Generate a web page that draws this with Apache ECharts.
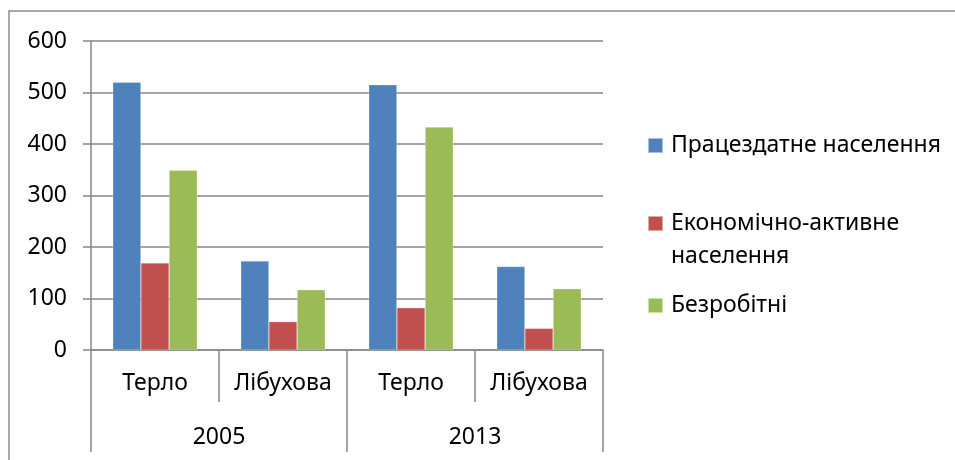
<!DOCTYPE html>
<html>
<head>
<meta charset="utf-8">
<script src="https://cdn.jsdelivr.net/npm/echarts@6/dist/echarts.min.js"></script>
<style>
  html, body { margin: 0; padding: 0; background: #fff; }
  #chart { width: 955px; height: 460px; }
</style>
</head>
<body>
<div id="chart"></div>
<script>
const villages = ["Терло", "Лібухова", "Терло", "Лібухова"];
const years = ["2005", "2013"];
const seriesNames = ["Працездатне населення", "Економічно-активне населення", "Безробітні"];
const ableBodied = [520, 173, 515, 162];
const active = [169, 55, 82, 42];
const unemployed = [349, 117, 433, 119];
const yTicks = { min: 0, max: 600, interval: 100 };

const colors = ["#4F81BD", "#C0504D", "#9BBB59"];
const axisGray = "#868686";
const font = "Noto Sans";
const fontSize = 23;

const chart = echarts.init(document.getElementById("chart"));

const legendBase = {
  orient: "vertical",
  left: 647,
  padding: 0,
  itemWidth: 15,
  itemHeight: 15,
  icon: "rect",
  selectedMode: false,
  textStyle: {
    fontFamily: font,
    fontSize: fontSize,
    color: "#000",
    lineHeight: 33,
    padding: [0, 0, 0, 3],
  },
};

chart.setOption({
  animation: false,
  color: colors,
  graphic: [
    {
      type: "polyline",
      shape: { points: [[9, 460], [9, 11], [955, 11]] },
      style: { stroke: "#8c8c8c", lineWidth: 1.5, fill: null },
    },
  ],
  legend: [
    Object.assign({}, legendBase, { top: 129, data: [seriesNames[0]] }),
    Object.assign({}, legendBase, {
      top: 174,
      data: [seriesNames[1]],
      // blank first line keeps the marker beside the first text line
      formatter: () => "\nЕкономічно-активне\nнаселення",
    }),
    Object.assign({}, legendBase, { top: 289, data: [seriesNames[2]] }),
  ],
  grid: { left: 91, right: 352, top: 41, bottom: 110 },
  xAxis: [
    {
      type: "category",
      data: villages,
      axisLine: { lineStyle: { color: axisGray, width: 1.5 } },
      axisTick: { show: true, interval: 0, length: 52, lineStyle: { color: axisGray, width: 1.5 } },
      axisLabel: { fontFamily: font, fontSize: fontSize, color: "#000", margin: 22, interval: 0 },
    },
    {
      type: "category",
      data: years,
      position: "bottom",
      axisLine: { show: false },
      axisTick: { show: true, interval: 0, length: 102, lineStyle: { color: axisGray, width: 1.5 } },
      axisLabel: { fontFamily: font, fontSize: fontSize, color: "#000", margin: 76 },
    },
  ],
  yAxis: {
    type: "value",
    min: yTicks.min,
    max: yTicks.max,
    interval: yTicks.interval,
    axisLine: { show: true, lineStyle: { color: axisGray, width: 1.5 } },
    axisTick: { show: true, length: 8, lineStyle: { color: axisGray, width: 1.5 } },
    splitLine: { lineStyle: { color: axisGray, width: 1.5 } },
    axisLabel: { fontFamily: font, fontSize: fontSize, color: "#000", margin: 24 },
  },
  series: [
    { name: seriesNames[0], type: "bar", data: ableBodied },
    { name: seriesNames[1], type: "bar", data: active },
    { name: seriesNames[2], type: "bar", data: unemployed },
  ].map((s, i) => Object.assign(s, {
    barGap: "0%",
    barCategoryGap: "34%",
    itemStyle: { color: colors[i], borderColor: "rgba(255,255,255,0.5)", borderWidth: 0.5 },
  })),
});
</script>
</body>
</html>
